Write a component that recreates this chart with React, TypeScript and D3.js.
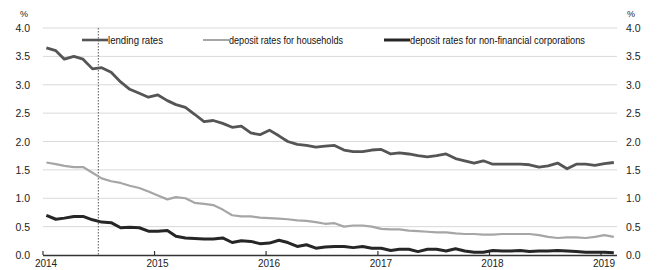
import React, { useEffect, useRef } from 'react'
import * as d3 from 'd3'

// monthly, Jan 2014 .. Feb 2019
const startYear = 2014
const lendingRates = [
  3.65, 3.6, 3.45, 3.5, 3.45, 3.28, 3.3, 3.22, 3.05, 2.92, 2.85, 2.78,
  2.82, 2.72, 2.65, 2.6, 2.48, 2.35, 2.37, 2.32, 2.25, 2.27, 2.15, 2.12,
  2.2, 2.1, 2.0, 1.95, 1.93, 1.9, 1.92, 1.93, 1.85, 1.82, 1.82, 1.85,
  1.86, 1.78, 1.8, 1.78, 1.75, 1.73, 1.75, 1.78, 1.7, 1.66, 1.62, 1.66,
  1.6, 1.6, 1.6, 1.6, 1.59, 1.55, 1.57, 1.62, 1.52, 1.6, 1.6, 1.58,
  1.61, 1.63
]
const householdRates = [
  1.63, 1.6, 1.57, 1.55, 1.55, 1.45, 1.35, 1.3, 1.27, 1.22, 1.18, 1.12,
  1.05, 0.98, 1.02, 1.0, 0.92, 0.9, 0.88, 0.8, 0.7, 0.68, 0.68, 0.66,
  0.65, 0.64, 0.63, 0.61, 0.6, 0.58, 0.55, 0.56, 0.5, 0.52, 0.52, 0.5,
  0.46, 0.45, 0.45, 0.43, 0.42, 0.41, 0.4, 0.4, 0.38, 0.37, 0.37, 0.36,
  0.36, 0.37, 0.37, 0.37, 0.37, 0.35, 0.32, 0.3, 0.31, 0.31, 0.3, 0.32,
  0.35, 0.32
]
const corporateRates = [
  0.7, 0.63, 0.65, 0.68, 0.68, 0.62, 0.58, 0.57, 0.48, 0.49, 0.48, 0.42,
  0.42, 0.43, 0.33, 0.3, 0.29, 0.28, 0.28, 0.3, 0.22, 0.25, 0.24, 0.2,
  0.21, 0.26, 0.22, 0.15, 0.18, 0.12, 0.14, 0.15, 0.15, 0.13, 0.15, 0.12,
  0.12, 0.08, 0.1, 0.1, 0.06, 0.1, 0.1, 0.07, 0.11, 0.07, 0.05, 0.05,
  0.08, 0.07, 0.07, 0.08, 0.06, 0.07, 0.07, 0.08, 0.07, 0.06, 0.05, 0.05,
  0.05, 0.04
]
const yTicks = [0, 0.5, 1, 1.5, 2, 2.5, 3, 3.5, 4]
const yearTicks = [2014, 2015, 2016, 2017, 2018, 2019]
const legendLabels = ['lending rates', 'deposit rates for households', 'deposit rates for non-financial corporations']

function App () {
  const ref = useRef(null)

  useEffect(() => {
    const svg = d3.select(ref.current)
    svg.selectAll('*').remove()

    const x = d3.scaleTime()
      .domain([new Date(2014, 0, 1), new Date(2019, 0, 1)])
      .range([43, 601])
    const y = d3.scaleLinear().domain([0, 4]).range([255, 28])
    const font = 'Liberation Sans, Arial, sans-serif'

    // gridlines
    svg.append('g')
      .selectAll('line')
      .data(yTicks.filter(d => d > 0))
      .enter()
      .append('line')
      .attr('x1', 43).attr('x2', 617)
      .attr('y1', d => y(d)).attr('y2', d => y(d))
      .attr('stroke', '#d9d9d9')
      .attr('stroke-width', 1)

    // y labels, both sides
    const fmt = d3.format('.1f')
    svg.append('g')
      .selectAll('text')
      .data(yTicks)
      .enter()
      .append('text')
      .attr('x', 30).attr('y', d => y(d) + 4)
      .attr('text-anchor', 'end')
      .attr('font-family', font).attr('font-size', 10.5)
      .attr('fill', '#222')
      .text(d => fmt(d))
    svg.append('g')
      .selectAll('text')
      .data(yTicks)
      .enter()
      .append('text')
      .attr('x', 626).attr('y', d => y(d) + 4)
      .attr('font-family', font).attr('font-size', 10.5)
      .attr('fill', '#222')
      .text(d => fmt(d))
    svg.append('text').attr('x', 20).attr('y', 17)
      .attr('font-family', font).attr('font-size', 9).attr('fill', '#222').text('%')
    svg.append('text').attr('x', 627).attr('y', 17)
      .attr('font-family', font).attr('font-size', 9).attr('fill', '#222').text('%')

    // x axis
    svg.append('line')
      .attr('x1', 43).attr('x2', 617)
      .attr('y1', 255.5).attr('y2', 255.5)
      .attr('stroke', '#333').attr('stroke-width', 1.5)
    svg.append('g')
      .selectAll('line')
      .data(yearTicks)
      .enter()
      .append('line')
      .attr('x1', d => x(new Date(d, 0, 1))).attr('x2', d => x(new Date(d, 0, 1)))
      .attr('y1', 255).attr('y2', 251)
      .attr('stroke', '#333').attr('stroke-width', 1.2)
    svg.append('g')
      .selectAll('text')
      .data(yearTicks)
      .enter()
      .append('text')
      .attr('x', d => x(new Date(d, 0, 1)) + 3)
      .attr('y', 267)
      .attr('text-anchor', 'middle')
      .attr('font-family', font).attr('font-size', 10)
      .attr('fill', '#222')
      .text(d => d)

    // vertical dotted marker
    svg.append('line')
      .attr('x1', x(new Date(2014, 6, 1))).attr('x2', x(new Date(2014, 6, 1)))
      .attr('y1', 28).attr('y2', 255)
      .attr('stroke', '#555').attr('stroke-width', 1)
      .attr('stroke-dasharray', '1.5,1.5')

    const line = d3.line()
      .x((d, i) => x(new Date(startYear, i, 12)))
      .y(d => y(d))

    const series = [
      { values: householdRates, color: '#a6a6a6', width: 2.2 },
      { values: corporateRates, color: '#262626', width: 3 },
      { values: lendingRates, color: '#555555', width: 2.8 }
    ]
    series.forEach(s => {
      svg.append('path')
        .datum(s.values)
        .attr('d', line)
        .attr('fill', 'none')
        .attr('stroke', s.color)
        .attr('stroke-width', s.width)
        .attr('stroke-linejoin', 'round')
    })

    // legend
    const legend = [
      { x: 82, color: '#555555', w: 2.6, len: 55 },
      { x: 203, color: '#a6a6a6', w: 2, len: 114 },
      { x: 384, color: '#262626', w: 3, len: 175 }
    ]
    legend.forEach((l, i) => {
      svg.append('line')
        .attr('x1', l.x).attr('x2', l.x + 26)
        .attr('y1', 40).attr('y2', 40)
        .attr('stroke', l.color).attr('stroke-width', l.w)
      svg.append('text')
        .attr('x', l.x + 26).attr('y', 44)
        .attr('font-family', font).attr('font-size', 11)
        .attr('fill', '#111')
        .attr('textLength', l.len)
        .attr('lengthAdjust', 'spacingAndGlyphs')
        .text(legendLabels[i])
    })
  }, [])

  return (
    <svg ref={ref} width={671} height={270}
      style={{ position: 'absolute', left: 0, top: 0, background: '#fff' }} />
  )
}

export default App
